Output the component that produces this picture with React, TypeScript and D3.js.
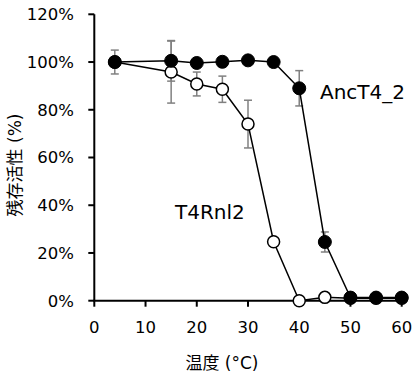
import React from "react";
import * as d3 from "d3";

const temps = [4, 15, 20, 25, 30, 35, 40, 45, 50, 55, 60];
const ancValues = [100, 100.5, 99.6, 100.1, 100.7, 100, 89, 24.6, 1.3, 1.3, 1.3];
const ancErrors = [5, 8.5, 0, 0, 0, 0, 7.4, 4.2, 0, 0, 0];
const t4Values = [100, 95.8, 90.8, 88.6, 74, 24.7, 0, 1.4, 1.0, 1.0, 1.0];
const t4Errors = [0, 13, 5, 5.5, 10, 0, 0, 0, 0, 0, 0];
const xTicks = [0, 10, 20, 30, 40, 50, 60];
const yTicks = [0, 20, 40, 60, 80, 100, 120];

const W = 417;
const H = 378;
const FONT = "'DejaVu Sans', 'Noto Sans CJK JP', sans-serif";

export default function App() {
  const x = d3.scaleLinear().domain([0, 60]).range([94.3, 401.7]);
  const y = d3.scaleLinear().domain([0, 120]).range([300.7, 14.3]);
  const line = d3
    .line<[number, number]>()
    .x((d) => x(d[0]))
    .y((d) => y(d[1]));
  const anc = temps.map((t, i) => [t, ancValues[i]] as [number, number]);
  const t4 = temps.map((t, i) => [t, t4Values[i]] as [number, number]);

  const errBars = (vals: number[], errs: number[], key: string) =>
    temps.map((t, i) =>
      errs[i] > 0 ? (
        <g key={key + i} stroke="#808080" strokeWidth={1.5}>
          <line x1={x(t)} x2={x(t)} y1={y(vals[i] - errs[i])} y2={y(vals[i] + errs[i])} />
          <line x1={x(t) - 4} x2={x(t) + 4} y1={y(vals[i] - errs[i])} y2={y(vals[i] - errs[i])} />
          <line x1={x(t) - 4} x2={x(t) + 4} y1={y(vals[i] + errs[i])} y2={y(vals[i] + errs[i])} />
        </g>
      ) : null
    );

  return (
    <svg
      width={W}
      height={H}
      style={{ position: "absolute", left: 0, top: 0, background: "#fff" }}
      fontFamily={FONT}
    >
      {/* axes */}
      <line x1={x(0)} x2={x(0)} y1={y(120)} y2={y(0)} stroke="#000" strokeWidth={2} />
      <line x1={x(0) - 1} x2={x(60)} y1={y(0)} y2={y(0)} stroke="#000" strokeWidth={2} />
      {yTicks.map((v) => (
        <g key={"y" + v}>
          <line x1={x(0) - 6} x2={x(0)} y1={y(v)} y2={y(v)} stroke="#000" strokeWidth={2} />
          <text x={74} y={y(v)} dy="0.36em" textAnchor="end" fontSize={16.5} fill="#000">
            {v}%
          </text>
        </g>
      ))}
      {xTicks.map((v) => (
        <g key={"x" + v}>
          <line x1={x(v)} x2={x(v)} y1={y(0)} y2={y(0) + 6} stroke="#000" strokeWidth={2} />
          <text x={x(v)} y={333} textAnchor="middle" fontSize={16.5} fill="#000">
            {v}
          </text>
        </g>
      ))}
      <text x={222} y={369} textAnchor="middle" fontSize={17} fill="#000">
        温度 (°C)
      </text>
      <text
        transform={`translate(21,165) rotate(-90)`}
        textAnchor="middle"
        fontSize={17}
        fill="#000"
      >
        残存活性 (%)
      </text>

      {/* error bars */}
      {errBars(t4Values, t4Errors, "t")}
      {errBars(ancValues, ancErrors, "a")}

      {/* lines */}
      <path d={line(t4) || ""} fill="none" stroke="#000" strokeWidth={1.5} />
      <path d={line(anc) || ""} fill="none" stroke="#000" strokeWidth={1.5} />

      {/* markers */}
      {t4.map((d, i) => (
        <circle key={"to" + i} cx={x(d[0])} cy={y(d[1])} r={6} fill="#fff" stroke="#000" strokeWidth={1.5} />
      ))}
      {anc.map((d, i) => (
        <circle key={"ac" + i} cx={x(d[0])} cy={y(d[1])} r={6.5} fill="#000" stroke="#000" strokeWidth={1} />
      ))}

      <text x={320} y={99} fontSize={20} fill="#000">
        AncT4_2
      </text>
      <text x={175} y={219} fontSize={20} fill="#000">
        T4Rnl2
      </text>
    </svg>
  );
}
